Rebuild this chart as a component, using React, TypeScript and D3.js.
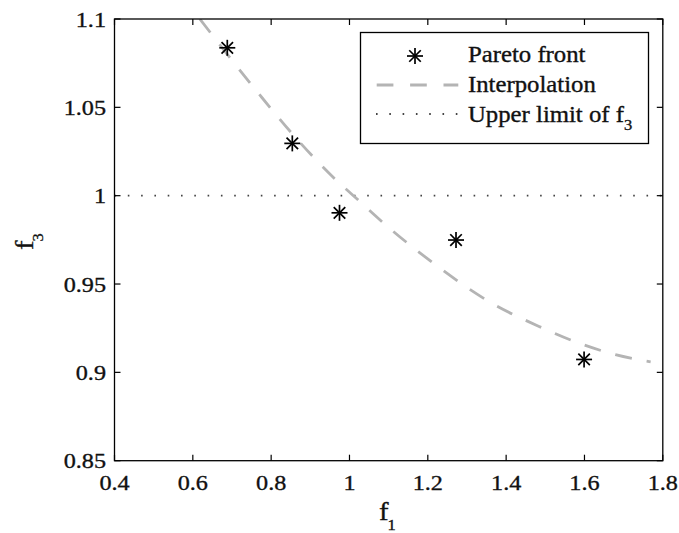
import React from "react";
import * as d3 from "d3";

const paretoF1 = [0.688, 0.854, 0.9745, 1.272, 1.599];
const paretoF3 = [1.0837, 1.0296, 0.9903, 0.9749, 0.9073];

const interpF1 = [0.618, 0.688, 0.771, 0.854, 0.97, 1.01, 1.1, 1.204, 1.357, 1.484, 1.599, 1.679, 1.769];
const interpF3 = [1.1, 1.08, 1.057, 1.035, 1.008, 1.0, 0.982, 0.9635, 0.94, 0.926, 0.9155, 0.91, 0.906];

const upperLimit = 1.0;

const xTicks = [0.4, 0.6, 0.8, 1, 1.2, 1.4, 1.6, 1.8];
const yTicks = [0.85, 0.9, 0.95, 1, 1.05, 1.1];
const legendLabels = ["Pareto front", "Interpolation", "Upper limit of f"];

const W = 679;
const H = 533;
const L = 114.5, R = 662.8, T = 19, B = 460.7;
const FONT = "Liberation Serif, Times New Roman, Times, serif";
const SX = 1.1;

const x = d3.scaleLinear().domain([0.4, 1.8]).range([L, R]);
const y = d3.scaleLinear().domain([0.85, 1.1]).range([B, T]);

function Star({ cx, cy, r = 8 }: { cx: number; cy: number; r?: number }) {
  const d = r * 0.72;
  return (
    <g stroke="#000" strokeWidth={1.7}>
      <line x1={cx - r} y1={cy} x2={cx + r} y2={cy} />
      <line x1={cx} y1={cy - r} x2={cx} y2={cy + r} />
      <line x1={cx - d} y1={cy - d} x2={cx + d} y2={cy + d} />
      <line x1={cx - d} y1={cy + d} x2={cx + d} y2={cy - d} />
    </g>
  );
}

function T1({ x0, y0, anchor, size, children, rot = 0 }: any) {
  return (
    <g transform={`translate(${x0},${y0}) rotate(${rot}) scale(${SX},1)`}>
      <text
        textAnchor={anchor}
        style={{ fontSize: size, fontFamily: FONT }}
        fill="#111"
        stroke="#111"
        strokeWidth={0.35}
      >
        {children}
      </text>
    </g>
  );
}

export default function App() {
  const line = d3
    .line<number>()
    .x((_, i) => x(interpF1[i]))
    .y((v) => y(v))
    .curve(d3.curveMonotoneX);
  const tickLen = 6;
  const fmt = (v: number) => String(v);
  return (
    <svg width={W} height={H} style={{ position: "absolute", left: 0, top: 0, background: "#fff" }}>
      <rect x={0} y={0} width={W} height={H} fill="#fff" />
      <defs>
        <clipPath id="plot">
          <rect x={L} y={T} width={R - L} height={B - T} />
        </clipPath>
      </defs>
      <line
        x1={L}
        x2={R}
        y1={y(upperLimit)}
        y2={y(upperLimit)}
        stroke="#444"
        strokeWidth={1.8}
        strokeDasharray="1.6,11.7"
      />
      <path
        d={line(interpF3) || ""}
        fill="none"
        stroke="#b4b4b4"
        strokeWidth={2.8}
        strokeDasharray="17,15"
        clipPath="url(#plot)"
      />
      {paretoF1.map((v, i) => (
        <Star key={i} cx={x(v)} cy={y(paretoF3[i])} />
      ))}
      <rect x={L} y={T} width={R - L} height={B - T} fill="none" stroke="#000" strokeWidth={1.3} />
      {xTicks.map((t) => (
        <g key={"x" + t}>
          <line x1={x(t)} x2={x(t)} y1={B} y2={B - tickLen} stroke="#000" strokeWidth={1.2} />
          <line x1={x(t)} x2={x(t)} y1={T} y2={T + tickLen} stroke="#000" strokeWidth={1.2} />
          <T1 x0={x(t)} y0={490} anchor="middle" size={22}>
            {fmt(t)}
          </T1>
        </g>
      ))}
      {yTicks.map((t) => (
        <g key={"y" + t}>
          <line x1={L} x2={L + tickLen} y1={y(t)} y2={y(t)} stroke="#000" strokeWidth={1.2} />
          <line x1={R} x2={R - tickLen} y1={y(t)} y2={y(t)} stroke="#000" strokeWidth={1.2} />
          <T1 x0={106} y0={y(t) + 7.5} anchor="end" size={22}>
            {fmt(t)}
          </T1>
        </g>
      ))}
      <T1 x0={379} y0={520} anchor="start" size={26}>
        f<tspan style={{ fontSize: 15 }} dy={10} dx={-1}>1</tspan>
      </T1>
      <T1 x0={33} y0={250} anchor="start" size={26} rot={-90}>
        f<tspan style={{ fontSize: 15 }} dy={10} dx={-1}>3</tspan>
      </T1>
      <rect x={360.5} y={32.5} width={288} height={111} fill="#fff" stroke="#000" strokeWidth={1.3} />
      <Star cx={415} cy={56} />
      <line x1={376.7} x2={458.3} y1={85} y2={85} stroke="#b4b4b4" strokeWidth={2.8} strokeDasharray="16.7,16.7" />
      <line x1={376} x2={460} y1={114} y2={114} stroke="#444" strokeWidth={1.8} strokeDasharray="1.6,11.7" />
      <T1 x0={468} y0={61.5} anchor="start" size={22.5}>
        {legendLabels[0]}
      </T1>
      <T1 x0={468} y0={91.5} anchor="start" size={22.5}>
        {legendLabels[1]}
      </T1>
      <T1 x0={468} y0={121.5} anchor="start" size={22.5}>
        {legendLabels[2]}
        <tspan style={{ fontSize: 15 }} dy={8}>3</tspan>
      </T1>
    </svg>
  );
}
